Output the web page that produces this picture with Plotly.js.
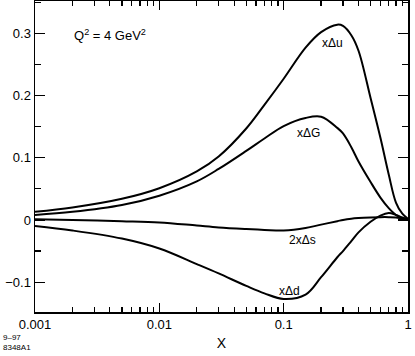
<!DOCTYPE html>
<html>
<head>
<meta charset="utf-8">
<script src="https://cdn.plot.ly/plotly-3.0.1.min.js"></script>
<style>
html,body{margin:0;padding:0;background:#fff;}
#chart{width:415px;height:356px;}
</style>
</head>
<body>
<div id="chart"></div>
<script>
const xVals = [0.001, 0.002, 0.005, 0.01, 0.02, 0.03, 0.05, 0.07, 0.1, 0.15, 0.2, 0.27, 0.3, 0.35, 0.4, 0.5, 0.6, 0.7, 0.8, 0.9, 1.0];
const xDeltaU = [0.013, 0.020, 0.034, 0.051, 0.078, 0.102, 0.147, 0.185, 0.227, 0.277, 0.302, 0.314, 0.312, 0.297, 0.272, 0.196, 0.132, 0.073, 0.028, 0.010, 0.002];
const xDeltaG = [0.008, 0.013, 0.024, 0.039, 0.062, 0.082, 0.111, 0.131, 0.151, 0.164, 0.166, 0.148, 0.139, 0.117, 0.094, 0.061, 0.036, 0.019, 0.008, 0.003, 0.001];
const twoXDeltaS = [0.001, 0.000, -0.002, -0.004, -0.009, -0.012, -0.0146, -0.016, -0.017, -0.013, -0.0075, -0.002, 0.000, 0.002, 0.003, 0.004, 0.0045, 0.0045, 0.004, 0.002, 0.001];
const xDeltaD = [-0.0098, -0.017, -0.030, -0.046, -0.071, -0.086, -0.106, -0.118, -0.127, -0.120, -0.092, -0.060, -0.050, -0.034, -0.020, -0.003, 0.007, 0.011, 0.008, 0.004, 0.001];

const curveLabels = [
  {text: 'xΔu', x: 0.249, y: 0.285},
  {text: 'xΔG', x: 0.157, y: 0.140},
  {text: '2xΔs', x: 0.141, y: -0.033},
  {text: 'xΔd', x: 0.112, y: -0.114}
];
const xTickVals = [0.001, 0.01, 0.1, 1];
const xTickText = ['0.001', '0.01', '0.1', '1'];
const yTickVals = [-0.1, 0, 0.1, 0.2, 0.3];
const yTickText = ['\u22120.1', '0', '0.1', '0.2', '0.3'];

const minorX = [];
[0.001, 0.01, 0.1].forEach(d => { for (let k = 2; k <= 9; k++) minorX.push(d * k); });

const line = {color: '#000', width: 2, shape: 'spline', smoothing: 1};
const traces = [xDeltaU, xDeltaG, twoXDeltaS, xDeltaD].map((ys, i) => ({
  x: xVals, y: ys, type: 'scatter', mode: 'lines', line: line,
  hoverinfo: 'skip', showlegend: false
}));

const font = {family: 'Liberation Sans, Arial, Helvetica, sans-serif', color: '#000'};
const annotations = curveLabels.map(l => ({
  x: Math.log10(l.x), y: l.y, xref: 'x', yref: 'y', text: l.text,
  showarrow: false, font: Object.assign({size: 12}, font)
}));
annotations.push({
  x: Math.log10(0.002), y: 0.297, xref: 'x', yref: 'y', xanchor: 'left',
  text: 'Q<sup>2</sup> = 4 GeV<sup>2</sup>', showarrow: false,
  font: Object.assign({size: 13}, font)
});
annotations.push({
  x: 0, y: 0, xref: 'paper', yref: 'paper', xanchor: 'left', yanchor: 'bottom',
  xshift: -34, yshift: -42, text: '9\u201397<br>8348A1', showarrow: false, align: 'left',
  font: Object.assign({size: 8}, font)
});

const layout = {
  width: 415, height: 356,
  margin: {l: 35, r: 7, t: 1, b: 44},
  paper_bgcolor: '#fff', plot_bgcolor: '#fff',
  font: Object.assign({size: 13}, font),
  showlegend: false,
  xaxis: {
    type: 'log', range: [-3, 0],
    tickmode: 'array', tickvals: xTickVals, ticktext: xTickText,
    ticks: 'inside', ticklen: 9, tickwidth: 1.2, tickcolor: '#000',
    showline: true, linecolor: '#000', linewidth: 1.5, mirror: 'ticks',
    showgrid: false, zeroline: false,
    minor: {tickmode: 'array', tickvals: minorX, ticks: 'inside', ticklen: 5, tickwidth: 1.2, tickcolor: '#000', showgrid: false},
    title: {text: 'X', font: Object.assign({size: 14}, font), standoff: 7},
    tickfont: Object.assign({size: 13}, font)
  },
  yaxis: {
    range: [-0.148, 0.352],
    tickmode: 'array', tickvals: yTickVals, ticktext: yTickText,
    ticks: 'inside', ticklen: 10, tickwidth: 1.2, tickcolor: '#000',
    showline: true, linecolor: '#000', linewidth: 1.5, mirror: 'ticks',
    showgrid: false, zeroline: false,
    minor: {tickmode: 'linear', tick0: 0.05, dtick: 0.1, ticks: 'inside', ticklen: 6, tickwidth: 1.2, tickcolor: '#000', showgrid: false},
    tickfont: Object.assign({size: 13}, font)
  },
  annotations: annotations
};

Plotly.newPlot('chart', traces, layout, {staticPlot: true, displayModeBar: false});
</script>
</body>
</html>
